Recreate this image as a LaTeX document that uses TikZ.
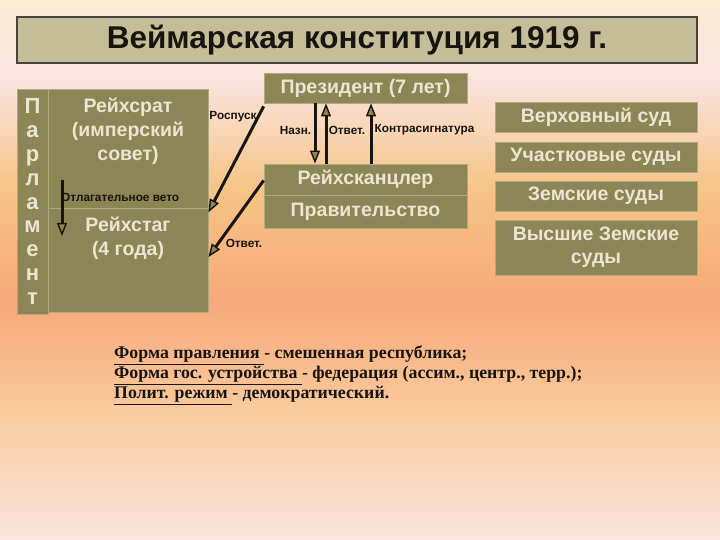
\documentclass[tikz,border=0pt]{standalone}
\usepackage{fontspec}
\setmainfont{Liberation Serif}
\newfontfamily\boxfont{Liberation Sans}
\usetikzlibrary{positioning}
\usetikzlibrary{calc}
\usetikzlibrary{arrows.meta}

\definecolor{bgTop}{RGB}{251,236,212}
\definecolor{bgA}{RGB}{250,228,224}
\definecolor{bgB}{RGB}{246,196,132}
\definecolor{bgC}{RGB}{246,168,122}
\definecolor{bgD}{RGB}{249,205,160}
\definecolor{bgE}{RGB}{250,228,222}
\definecolor{olivebox}{RGB}{140,134,86}
\definecolor{oliveedge}{RGB}{176,170,128}
\definecolor{boxtext}{RGB}{234,230,208}
\definecolor{titlebox}{RGB}{196,189,151}
\definecolor{darkline}{RGB}{24,20,14}

\pgfdeclareverticalshading{bgshade}{100bp}{color(0bp)=(bgE); color(25bp)=(bgE); color(36.1bp)=(bgD); color(47.2bp)=(bgC); color(57.4bp)=(bgB); color(67.6bp)=(bgA); color(75bp)=(bgTop); color(100bp)=(bgTop)}

\begin{document}
\begin{tikzpicture}[x=1pt, y=-1pt,
    box/.style={rectangle, fill=olivebox, draw=oliveedge, line width=0.8pt, inner sep=0pt,
      text=boxtext, align=center, font=\boxfont\bfseries\fontsize{19.5}{23}\selectfont},
    boxtxt/.style={inner sep=0pt, text=boxtext, align=center, font=\boxfont\bfseries\fontsize{19.5}{24}\selectfont},
    lbl/.style={inner sep=0pt, text=darkline, font=\boxfont\bfseries\fontsize{11.8}{13}\selectfont},
    arr/.style={draw=darkline, line width=3pt, -{Triangle[width=10pt, length=13pt, fill=olivebox, line width=1.4pt]}}]

    % Background
    \useasboundingbox (0,0) rectangle (720,540);
    \shade[shading=bgshade] (0,0) rectangle (720,540);

    % Title
    \node[rectangle, fill=titlebox, draw=darkline!80, line width=1.2pt, minimum width=680pt, minimum height=46pt,
      text=darkline, font=\boxfont\bfseries\fontsize{31.5}{34}\selectfont] (title) at (357,40) {Веймарская конституция 1919 г.};

    % Parliament
    \node[box, minimum width=31pt, minimum height=225pt, font=\boxfont\bfseries\fontsize{22}{23.8}\selectfont] (parl) at (32.5,201.5)
      {П\\а\\р\\л\\а\\м\\е\\н\\т};
    \node[box, minimum width=160pt, minimum height=119pt] (rrat) at (128,148.5) {};
    \node[boxtxt] (rratText) at ([yshift=-43pt]rrat.north) {Рейхсрат\\(имперский\\совет)};
    \node[box, minimum width=160pt, minimum height=104pt] (rtag) at (128,260) {};
    \node[boxtxt] (rtagText) at ([yshift=-30.5pt]rtag.north) {Рейхстаг\\(4 года)};

    % Veto
    \coordinate (vetoTop) at (62,180);
    \coordinate (vetoEnd) at (62,236);
    \draw[arr] (vetoTop) -- (vetoEnd);
    \node[lbl, anchor=west] (veto) at (61,197) {Отлагательное вето};

    % President and government
    \node[box, minimum width=203pt, minimum height=30pt] (pres) at (365.5,88) {Президент (7 лет)};
    \node[box, minimum width=203pt, minimum height=31pt] (kanz) at (365.5,179.5) {Рейхсканцлер};
    \node[box, minimum width=203pt, minimum height=33pt] (prav) at (365.5,211.5) {Правительство};

    \draw[arr] ([xshift=-50.5pt]pres.south) -- ([xshift=-50.5pt]kanz.north);
    \draw[arr] ([xshift=-39.5pt]kanz.north) -- ([xshift=-39.5pt]pres.south);
    \draw[arr] ([xshift=5.5pt]kanz.north) -- ([xshift=5.5pt]pres.south);
    \node[lbl] (nazn) at (295.5,130) {Назн.};
    \node[lbl] (otv1) at (347,130) {Ответ.};
    \node[lbl] (kontr) at (424.5,130) {Контрасигнатура};

    % To parliament
    \draw[arr] ([yshift=-3pt]pres.south west) -- ([yshift=-4pt]rrat.south east);
    \node[lbl] (rospusk) at (233,117) {Роспуск};
    \draw[arr] ([yshift=-1pt]kanz.west) -- ([yshift=3pt]rtag.east);
    \node[lbl] (otv2) at (244,243) {Ответ.};

    % Courts
    \node[box, minimum width=202pt, minimum height=30pt] (vs) at (596,117) {Верховный суд};
    \node[box, minimum width=202pt, minimum height=30pt] (us) at (596,157) {Участковые суды};
    \node[box, minimum width=202pt, minimum height=30pt] (zs) at (596,196) {Земские суды};
    \node[box, minimum width=202pt, minimum height=55pt] (vzs) at (596,247.5) {Высшие Земские\\суды};

    % Summary
    \node[anchor=north west, inner sep=0pt, align=left, text=darkline, font=\bfseries\fontsize{17.8}{20}\selectfont] (forma) at (114,346)
      {\underline{Форма правления }- смешенная республика;\\
       \underline{Форма гос. устройства }- федерация (ассим., центр., терр.);\\
       \underline{Полит. режим }- демократический.};

\end{tikzpicture}
\end{document}
